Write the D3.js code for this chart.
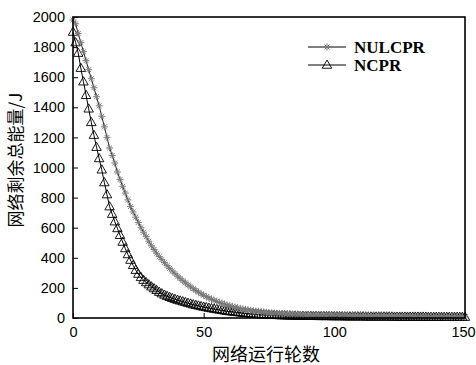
<!DOCTYPE html>
<html>
<head>
<meta charset="utf-8">
<script src="https://cdn.jsdelivr.net/npm/d3@7"></script>
<style>
  body { margin: 0; background: #fff; }
  svg text { fill: #000; }
</style>
</head>
<body>
<div id="chart"></div>
<script>
// rounds 0..150
const rounds = d3.range(0, 151);

const xTicks = [0, 50, 100, 150];
const yTicks = [0, 200, 400, 600, 800, 1000, 1200, 1400, 1600, 1800, 2000];

const seriesNames = ['NULCPR', 'NCPR'];

// remaining energy per round
const nulcpr = [
  1980, 1955, 1890, 1830, 1770, 1710, 1650, 1590, 1530, 1470,
  1410, 1340, 1270, 1200, 1130, 1080, 1030, 970, 920, 875,
  830, 785, 740, 705, 670, 635, 600, 570, 540, 510,
  480, 455, 430, 408, 388, 368, 348, 330, 312, 295,
  278, 263, 248, 234, 220, 207, 195, 183, 172, 161,
  151, 142, 133, 125, 118, 111, 104, 98, 92, 86,
  81, 76, 72, 68, 64, 60, 57, 54, 51, 48,
  46, 44, 42, 40, 38, 36, 35, 33, 32, 31,
  30, 29, 28, 27, 26, 26, 25, 24, 24, 23,
  22, 22, 21, 21, 20, 20, 19, 19, 19, 18,
  18, 18, 17, 17, 17, 16, 16, 16, 15, 15,
  15, 15, 14, 14, 14, 14, 13, 13, 13, 13,
  12, 12, 12, 12, 12, 11, 11, 11, 11, 11,
  10, 10, 10, 10, 10, 10, 9, 9, 9, 9,
  9, 9, 9, 8, 8, 8, 8, 8, 8, 8,
  8
];

const ncpr = [
  1900, 1830, 1760, 1660, 1570, 1480, 1390, 1300, 1215, 1135,
  1060, 985, 900, 820, 740, 690, 640, 595, 550, 505,
  462, 422, 385, 350, 318, 292, 270, 252, 236, 222,
  208, 196, 184, 172, 162, 153, 145, 138, 131, 125,
  119, 114, 109, 104, 99, 94, 89, 85, 81, 77,
  73, 70, 66, 63, 60, 57, 54, 51, 48, 45,
  43, 41, 39, 37, 35, 33, 31, 30, 28, 27,
  25, 24, 23, 22, 21, 20, 19, 18, 18, 17,
  16, 16, 15, 15, 14, 14, 14, 13, 13, 13,
  12, 12, 12, 12, 11, 11, 11, 11, 11, 10,
  10, 10, 10, 10, 9, 9, 9, 9, 9, 9,
  9, 9, 8, 8, 8, 8, 8, 8, 8, 8,
  8, 8, 8, 7, 7, 7, 7, 7, 7, 7,
  7, 7, 7, 7, 7, 7, 6, 6, 6, 6,
  6, 6, 6, 6, 6, 6, 6, 6, 6, 6,
  6
];

const width = 476, height = 365;
const margin = { top: 17, right: 11, bottom: 47, left: 73 };
const innerW = width - margin.left - margin.right;
const innerH = height - margin.top - margin.bottom;

const svg = d3.select('#chart')
  .append('svg')
  .attr('width', width)
  .attr('height', height);

const g = svg.append('g')
  .attr('transform', `translate(${margin.left},${margin.top})`);

const x = d3.scaleLinear().domain([0, 150]).range([0, innerW]);
const y = d3.scaleLinear().domain([0, 2000]).range([innerH, 0]);

const tickFont = '"Liberation Sans", Arial, sans-serif';
const cjkFont = '"Noto Sans CJK SC", sans-serif';

// axes, ticks pointing inward
const xAxis = g.append('g')
  .attr('transform', `translate(0,${innerH})`)
  .call(d3.axisBottom(x).tickValues(xTicks).tickFormat(d3.format('d'))
    .tickSizeInner(-5).tickSizeOuter(0).tickPadding(9));
const yAxis = g.append('g')
  .call(d3.axisLeft(y).tickValues(yTicks).tickFormat(d3.format('d'))
    .tickSizeInner(-5).tickSizeOuter(0).tickPadding(8));

[xAxis, yAxis].forEach(a => {
  a.select('.domain').remove();
  a.selectAll('line').attr('stroke', '#000');
  a.selectAll('text').style('font-family', tickFont).style('font-size', '14.5px');
});
// last x label sits against the right edge, as in the original
xAxis.selectAll('.tick text').filter(d => d === 150).attr('dx', -2);

const line = d3.line()
  .x((d, i) => x(rounds[i]))
  .y(d => y(d));

// star marker (plus + cross)
function star(sel, s) {
  sel.append('path')
    .attr('d', `M${-s},0H${s}M0,${-s}V${s}M${-s * 0.7},${-s * 0.7}L${s * 0.7},${s * 0.7}M${-s * 0.7},${s * 0.7}L${s * 0.7},${-s * 0.7}`)
    .attr('stroke', '#7a7a7a')
    .attr('stroke-width', 1)
    .attr('fill', 'none');
}
function tri(sel, s) {
  sel.append('path')
    .attr('d', `M0,${-s}L${s * 0.95},${s * 0.65}L${-s * 0.95},${s * 0.65}Z`)
    .attr('stroke', '#000')
    .attr('stroke-width', 0.9)
    .attr('fill', 'none');
}

const plot = g.append('g');

// NCPR
plot.append('path')
  .datum(ncpr)
  .attr('d', line)
  .attr('fill', 'none')
  .attr('stroke', '#000')
  .attr('stroke-width', 1);
plot.selectAll('g.tri')
  .data(ncpr)
  .join('g')
  .attr('class', 'tri')
  .attr('transform', (d, i) => `translate(${x(rounds[i])},${y(d)})`)
  .each(function () { tri(d3.select(this), 5); });

// NULCPR
plot.append('path')
  .datum(nulcpr)
  .attr('d', line)
  .attr('fill', 'none')
  .attr('stroke', '#222')
  .attr('stroke-width', 1);
plot.selectAll('g.star')
  .data(nulcpr)
  .join('g')
  .attr('class', 'star')
  .attr('transform', (d, i) => `translate(${x(rounds[i])},${y(d)})`)
  .each(function () { star(d3.select(this), 3.5); });

// box
g.append('rect')
  .attr('width', innerW)
  .attr('height', innerH)
  .attr('fill', 'none')
  .attr('stroke', '#000')
  .attr('stroke-width', 1.6);

// legend
const legend = svg.append('g');
const legendRows = [
  { name: seriesNames[0], y: 47, mark: star },
  { name: seriesNames[1], y: 65, mark: tri }
];
legendRows.forEach(r => {
  legend.append('line')
    .attr('x1', 308).attr('x2', 346)
    .attr('y1', r.y).attr('y2', r.y)
    .attr('stroke', '#000').attr('stroke-width', 1);
  const m = legend.append('g').attr('transform', `translate(327,${r.y})`);
  r.mark(m, r.mark === star ? 3.5 : 5);
  legend.append('text')
    .attr('x', 354).attr('y', r.y + 6)
    .style('font-family', '"Liberation Serif", "Times New Roman", serif')
    .style('font-weight', 'bold')
    .style('font-size', '17px')
    .text(r.name);
});

// axis titles
svg.append('text')
  .attr('x', 266).attr('y', 361)
  .attr('text-anchor', 'middle')
  .style('font-family', cjkFont)
  .style('font-size', '18px')
  .text('网络运行轮数');

svg.append('text')
  .attr('transform', 'translate(22,160) rotate(-90)')
  .attr('text-anchor', 'middle')
  .style('font-family', cjkFont)
  .style('font-size', '17px')
  .text('网络剩余总能量/J');
</script>
</body>
</html>
